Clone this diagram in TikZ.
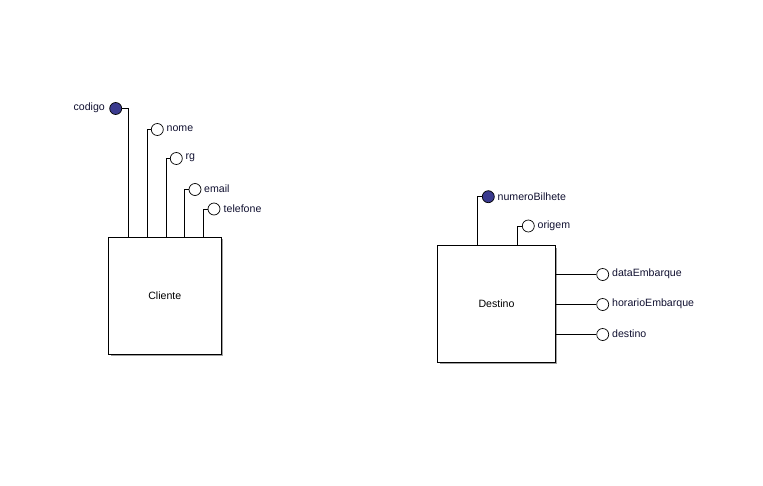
\documentclass[tikz,border=0pt]{standalone}
\usepackage{fontspec}
\setmainfont{Liberation Sans}
\definecolor{keyfill}{HTML}{3A3A8E}
\definecolor{labelcol}{HTML}{101030}
\definecolor{shadowcol}{HTML}{A0A0A0}
\begin{document}
\begin{tikzpicture}[x=1pt,y=-1pt,
  entity/.style={draw=black,fill=white,line width=0.8pt,minimum width=#1,inner sep=0pt,font=\fontsize{10.6}{12}\selectfont},
  attr/.style={circle,draw=black,fill=white,line width=0.7pt,minimum size=12pt,inner sep=0pt},
  keyattr/.style={attr,fill=keyfill},
  lbl/.style={font=\fontsize{10.6}{12}\selectfont,text=labelcol,inner sep=0pt},
  conn/.style={line width=0.7pt}]
\useasboundingbox (0,0) rectangle (763,485);
% shadows
\fill[shadowcol] (110.5,239) rectangle (222.7,356);
\fill[shadowcol] (439.5,247.5) rectangle (557,363.5);
% entities
\node[entity, minimum width=112.7pt, minimum height=117pt, anchor=north west] (cli) at (108,237) {Cliente};
\node[entity, minimum width=117.7pt, minimum height=116.5pt, anchor=north west] (des) at (437.3,245.3) {Destino};
% Cliente attributes
\node[keyattr] (codigo) at (115.7,108.5) {};
\node[lbl,anchor=east] (lcodigo) at (105,108) {codigo};
\node[attr] (nome) at (157.3,129.5) {};
\node[lbl,anchor=west] (lnome) at (166.5,129) {nome};
\node[attr] (rg) at (176.3,158.5) {};
\node[lbl,anchor=west] (lrg) at (185.5,158) {rg};
\node[attr] (email) at (195,189.5) {};
\node[lbl,anchor=west] (lemail) at (204,189) {email};
\node[attr] (tel) at (214,209) {};
\node[lbl,anchor=west] (ltel) at (223.5,208.5) {telefone};
\draw[conn] (codigo.east) -| (cli.north west -| 128,0);
\draw[conn] (nome.west) -| (cli.north west -| 147,0);
\draw[conn] (rg.west) -| (cli.north west -| 166,0);
\draw[conn] (email.west) -| (cli.north west -| 184.5,0);
\draw[conn] (tel.west) -| (cli.north west -| 203.5,0);
% Destino attributes
\node[keyattr] (num) at (488.3,196.7) {};
\node[lbl,anchor=west] (lnum) at (497.5,196.5) {numeroBilhete};
\node[attr] (orig) at (528.3,226) {};
\node[lbl,anchor=west] (lorig) at (537.5,226) {origem};
\node[attr] (dataE) at (602.7,274.5) {};
\node[lbl,anchor=west] (ldataE) at (612,274) {dataEmbarque};
\node[attr] (horE) at (602.7,304.5) {};
\node[lbl,anchor=west] (lhorE) at (612,304) {horarioEmbarque};
\node[attr] (dest) at (602.7,334.5) {};
\node[lbl,anchor=west] (ldest) at (612,334) {destino};
\draw[conn] (num.west) -| (des.north west -| 477.7,0);
\draw[conn] (orig.west) -| (des.north west -| 517.7,0);
\draw[conn] (des.east |- dataE) -- (dataE.west);
\draw[conn] (des.east |- horE) -- (horE.west);
\draw[conn] (des.east |- dest) -- (dest.west);
\end{tikzpicture}
\end{document}
